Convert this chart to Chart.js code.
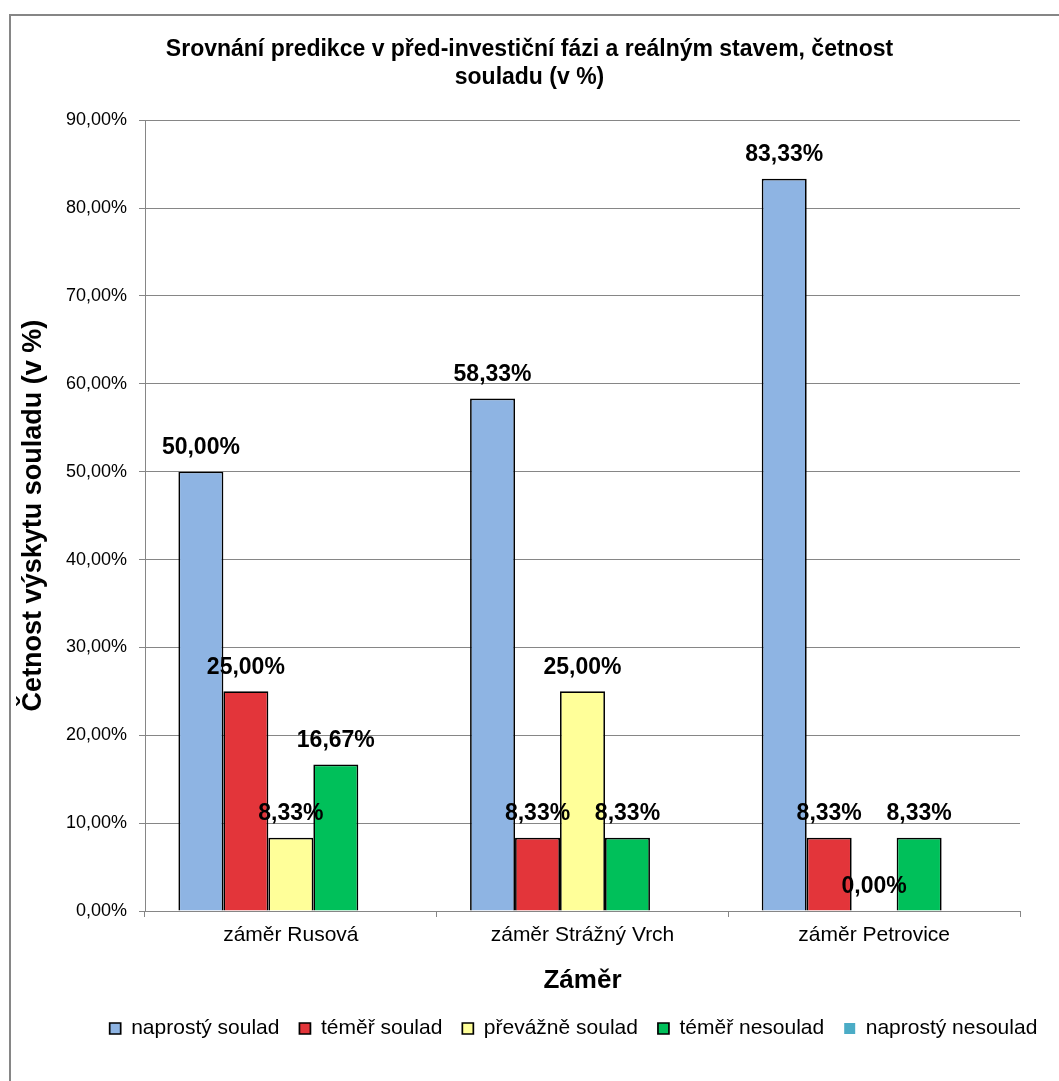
<!DOCTYPE html>
<html>
<head>
<meta charset="utf-8">
<script src="https://cdn.jsdelivr.net/npm/chart.js@4.4.1/dist/chart.umd.min.js"></script>
<style>
  html, body { margin: 0; padding: 0; background: #fff; }
  #wrap { width: 1059px; height: 1081px; }
</style>
</head>
<body>
<div id="wrap"><canvas id="chart"></canvas></div>
<script>
// chart data (values in %)
const categories = ['záměr Rusová', 'záměr Strážný Vrch', 'záměr Petrovice'];
const seriesNames = ['naprostý soulad', 'téměř soulad', 'převážně soulad', 'téměř nesoulad', 'naprostý nesoulad'];
const naprostySoulad = [50.00, 58.33, 83.33];
const temerSoulad = [25.00, 8.33, 8.33];
const prevazneSoulad = [8.33, 25.00, 0.00];
const temerNesoulad = [16.67, 8.33, 8.33];
const naprostyNesoulad = [null, null, null];
const yTicks = [0, 10, 20, 30, 40, 50, 60, 70, 80, 90];

const colors = ['#8EB4E3', '#E3353A', '#FFFF99', '#00C05A', '#4BACC6'];
const gridColor = '#868686';
const FONT = 'Arial, "Liberation Sans", sans-serif';

const fmt = v => v.toFixed(2).replace('.', ',') + '%';

// outer frame of the chart object
const framePlugin = {
    id: 'frame',
    beforeDraw(chart) {
        const ctx = chart.ctx;
        ctx.save();
        ctx.fillStyle = '#fff';
        ctx.fillRect(0, 0, chart.width, chart.height);
        ctx.strokeStyle = gridColor;
        ctx.lineWidth = 2;
        ctx.strokeRect(10, 15, chart.width + 20, chart.height + 20);
        ctx.restore();
    }
};

// legend in the reference sits centred under the plot, not the canvas
const legendShift = {
    id: 'legendShift',
    afterLayout(chart) {
        const lg = chart.legend;
        if (!lg) return;
        lg.left += 44;
        lg.right += 44;
    }
};

// value labels above bars
const valueLabels = {
    id: 'valueLabels',
    afterDatasetsDraw(chart) {
        const ctx = chart.ctx;
        ctx.save();
        ctx.font = 'bold 23px ' + FONT;
        ctx.fillStyle = '#000';
        ctx.textAlign = 'center';
        ctx.textBaseline = 'middle';
        chart.data.datasets.forEach((ds, i) => {
            const meta = chart.getDatasetMeta(i);
            meta.data.forEach((bar, j) => {
                const v = ds.data[j];
                if (v === null || v === undefined) return;
                ctx.fillText(fmt(v), bar.x, bar.y - 24);
            });
        });
        ctx.restore();
    }
};

const seriesData = [naprostySoulad, temerSoulad, prevazneSoulad, temerNesoulad, naprostyNesoulad];

const datasets = seriesData.map((d, i) => ({
    label: seriesNames[i],
    data: d,
    backgroundColor: colors[i],
    borderColor: '#000',
    borderWidth: i === 4 ? 0 : 1.7,
    categoryPercentage: 0.771,
    barPercentage: 1
}));

new Chart(document.getElementById('chart'), {
    type: 'bar',
    data: { labels: categories, datasets: datasets },
    options: {
        responsive: true,
        maintainAspectRatio: false,
        animation: false,
        layout: { padding: { left: 10, right: 10, top: 20, bottom: 32 } },
        plugins: {
            title: {
                display: true,
                text: ['Srovnání predikce v před-investiční fázi a reálným stavem, četnost', 'souladu (v %)'],
                color: '#000',
                font: { family: FONT, size: 23, weight: 'bold', lineHeight: 1.2 },
                padding: { top: 16, bottom: 29 }
            },
            legend: {
                position: 'bottom',
                labels: {
                    color: '#000',
                    font: { family: FONT, size: 21 },
                    boxWidth: 11,
                    boxHeight: 11,
                    padding: 20
                }
            },
            tooltip: { enabled: false }
        },
        scales: {
            x: {
                grid: { drawOnChartArea: false, drawTicks: true, tickLength: 6, color: gridColor, offset: true },
                border: { display: true, color: gridColor },
                ticks: { color: '#000', font: { family: FONT, size: 21 }, padding: 6, maxRotation: 0 },
                title: {
                    display: true, text: 'Záměr', color: '#000',
                    font: { family: FONT, size: 26, weight: 'bold' },
                    padding: { top: 4, bottom: 2 }
                },
                afterFit(s) { s.height = 87; }
            },
            y: {
                min: 0,
                max: 90,
                afterBuildTicks(s) { s.ticks = yTicks.map(v => ({ value: v })); },
                grid: { color: gridColor, tickLength: 6 },
                border: { display: true, color: gridColor },
                ticks: {
                    color: '#000',
                    font: { family: FONT, size: 18 },
                    padding: 12,
                    callback: v => fmt(v)
                },
                title: {
                    display: true, text: 'Četnost výskytu souladu (v %)', color: '#000',
                    font: { family: FONT, size: 27, weight: 'bold' },
                    padding: { top: 7, bottom: 4 }
                },
                afterFit(s) { s.width = 135; }
            },
            yRight: {
                position: 'right',
                display: true,
                grid: { display: false },
                border: { display: false },
                ticks: { display: false },
                afterFit(s) { s.width = 29; }
            }
        }
    },
    plugins: [framePlugin, legendShift, valueLabels]
});
</script>
</body>
</html>
